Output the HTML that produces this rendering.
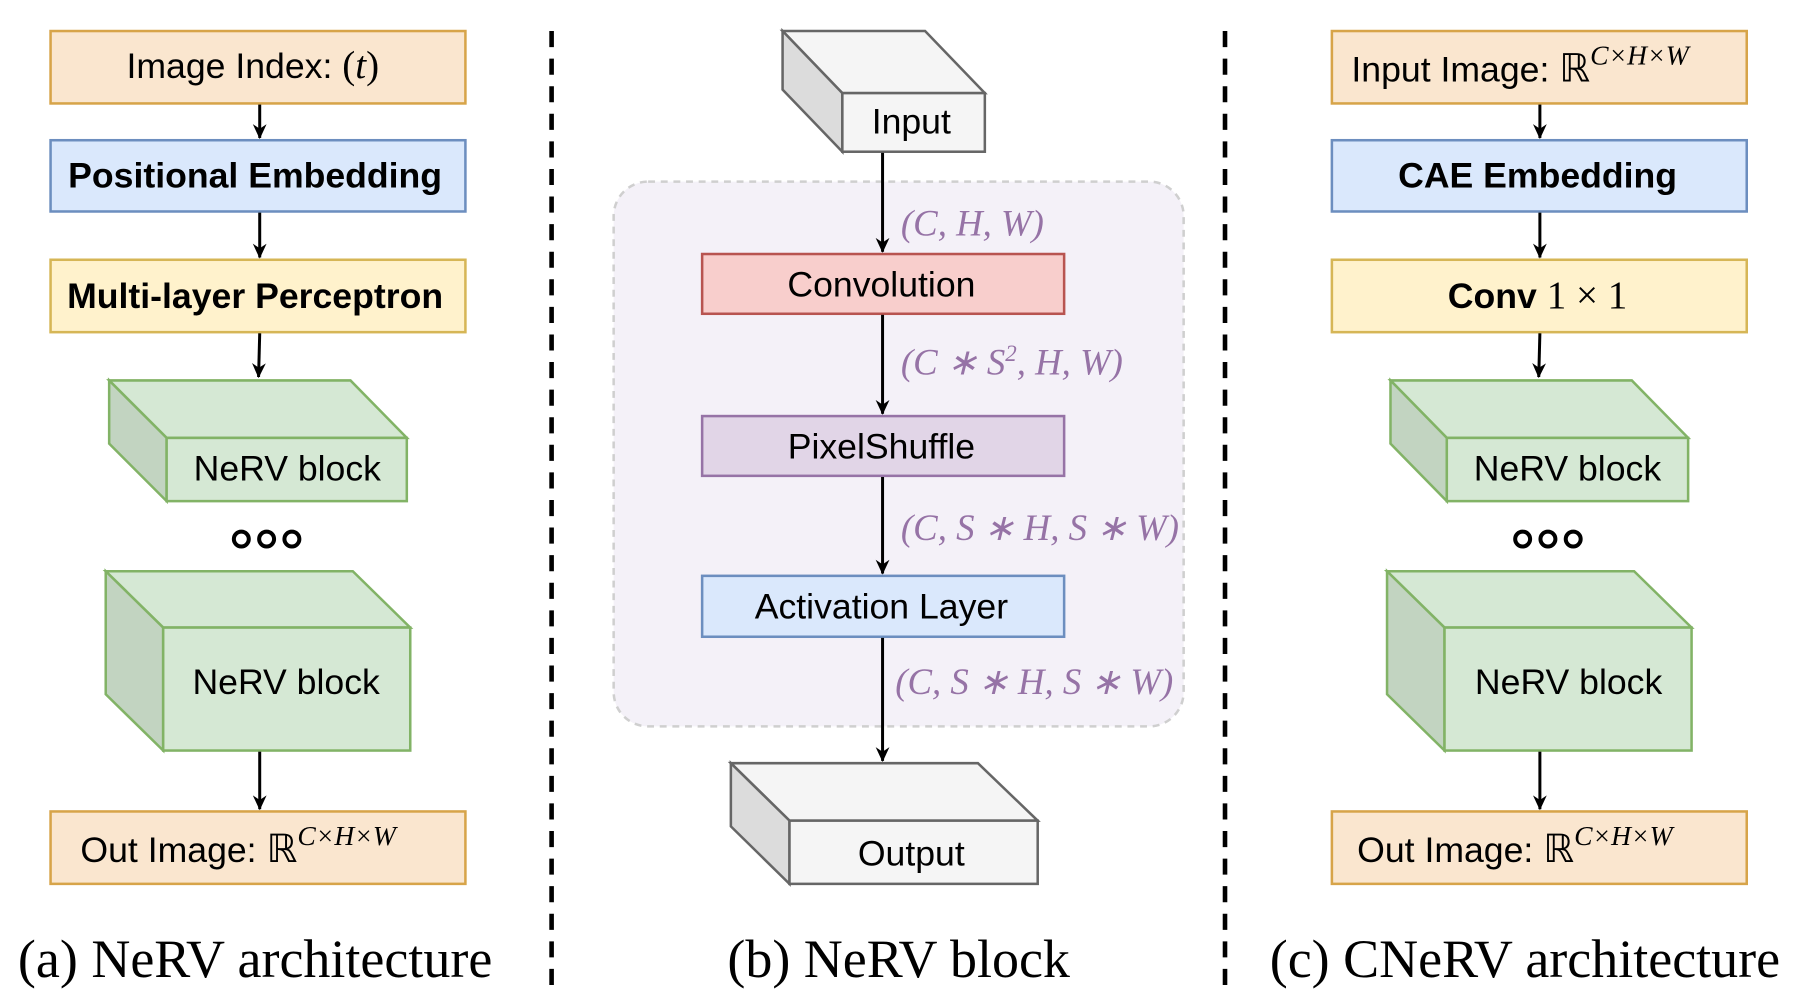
<!DOCTYPE html>
<html><head><meta charset="utf-8"><style>
html,body{margin:0;padding:0;background:#fff;}
svg{display:block;}
.t{font-family:"Liberation Sans",sans-serif;font-size:31px;fill:#000;}
.b{font-weight:bold;}
.m{font-family:"Liberation Serif",serif;font-style:italic;font-size:32px;fill:#9673a6;}
.cap{font-family:"Liberation Serif",serif;font-size:47px;fill:#000;}
</style></head><body>
<svg width="1795" height="1008" viewBox="0 0 1562 877" preserveAspectRatio="none" xmlns="http://www.w3.org/2000/svg">
<defs>
<marker id="ar" markerWidth="14" markerHeight="14" refX="12" refY="6" orient="auto" markerUnits="userSpaceOnUse">
<path d="M0,0 L13,6 L0,12 L4,6 z" fill="#000"/></marker>
</defs>
<g stroke-width="2.2">
<line x1="480" y1="27" x2="480" y2="860" stroke="#000" stroke-width="4" stroke-dasharray="14,10"/>
<line x1="1066" y1="27" x2="1066" y2="860" stroke="#000" stroke-width="4" stroke-dasharray="14,10"/>

<!-- LEFT -->
<rect x="44" y="27" width="361" height="63" fill="#fae6cf" stroke="#d7a449"/>
<rect x="44" y="122" width="361" height="62" fill="#dae8fc" stroke="#6c8ebf"/>
<rect x="44" y="226" width="361" height="63" fill="#fff2cc" stroke="#d6b656"/>
<path d="M95,331 L305,331 L354,381 L145,381 Z" fill="#d5e8d4" stroke="#82b366"/>
<path d="M95,331 L145,381 L145,436 L95,386 Z" fill="#c2d4c1" stroke="#82b366"/>
<rect x="145" y="381" width="209" height="55" fill="#d5e8d4" stroke="#82b366"/>
<path d="M92,497 L307,497 L357,546 L142,546 Z" fill="#d5e8d4" stroke="#82b366"/>
<path d="M92,497 L142,546 L142,653 L92,604 Z" fill="#c2d4c1" stroke="#82b366"/>
<rect x="142" y="546" width="215" height="107" fill="#d5e8d4" stroke="#82b366"/>
<rect x="44" y="706" width="361" height="63" fill="#fae6cf" stroke="#d7a449"/>
<g fill="none" stroke="#000" stroke-width="3.5"><circle cx="210" cy="469" r="6.5"/><circle cx="232" cy="469" r="6.5"/><circle cx="254" cy="469" r="6.5"/></g>
<g stroke="#000" stroke-width="2.6" marker-end="url(#ar)">
<line x1="226" y1="91" x2="226" y2="120"/><line x1="226" y1="185" x2="226" y2="224"/>
<line x1="226" y1="290" x2="225" y2="328"/><line x1="226" y1="654" x2="226" y2="704"/></g>

<!-- MIDDLE -->
<rect x="534" y="158" width="496" height="474" rx="30" fill="#f4f1f8" stroke="#cfcfcf" stroke-dasharray="6,5"/>
<path d="M681,27 L805,27 L857,81 L733,81 Z" fill="#f5f5f5" stroke="#666"/>
<path d="M681,27 L733,81 L733,132 L681,78 Z" fill="#dcdcdc" stroke="#666"/>
<rect x="733" y="81" width="124" height="51" fill="#f5f5f5" stroke="#666"/>
<rect x="611" y="221" width="315" height="52" fill="#f8cecc" stroke="#b85450"/>
<rect x="611" y="362" width="315" height="52" fill="#e1d5e7" stroke="#9673a6"/>
<rect x="611" y="501" width="315" height="53" fill="#dae8fc" stroke="#6c8ebf"/>
<path d="M636,664 L851,664 L903,714 L687,714 Z" fill="#f5f5f5" stroke="#666"/>
<path d="M636,664 L687,714 L687,769 L636,719 Z" fill="#dcdcdc" stroke="#666"/>
<rect x="687" y="714" width="216" height="55" fill="#f5f5f5" stroke="#666"/>
<g stroke="#000" stroke-width="2.6" marker-end="url(#ar)">
<line x1="768" y1="133" x2="768" y2="219"/><line x1="768" y1="274" x2="768" y2="360"/>
<line x1="768" y1="415" x2="768" y2="499"/><line x1="768" y1="555" x2="768" y2="662"/></g>

<!-- RIGHT -->
<rect x="1159" y="27" width="361" height="63" fill="#fae6cf" stroke="#d7a449"/>
<rect x="1159" y="122" width="361" height="62" fill="#dae8fc" stroke="#6c8ebf"/>
<rect x="1159" y="226" width="361" height="63" fill="#fff2cc" stroke="#d6b656"/>
<path d="M1210,331 L1420,331 L1469,381 L1259,381 Z" fill="#d5e8d4" stroke="#82b366"/>
<path d="M1210,331 L1259,381 L1259,436 L1210,386 Z" fill="#c2d4c1" stroke="#82b366"/>
<rect x="1259" y="381" width="210" height="55" fill="#d5e8d4" stroke="#82b366"/>
<path d="M1207,497 L1422,497 L1472,546 L1257,546 Z" fill="#d5e8d4" stroke="#82b366"/>
<path d="M1207,497 L1257,546 L1257,653 L1207,604 Z" fill="#c2d4c1" stroke="#82b366"/>
<rect x="1257" y="546" width="215" height="107" fill="#d5e8d4" stroke="#82b366"/>
<rect x="1159" y="706" width="361" height="63" fill="#fae6cf" stroke="#d7a449"/>
<g fill="none" stroke="#000" stroke-width="3.5"><circle cx="1325" cy="469" r="6.5"/><circle cx="1347" cy="469" r="6.5"/><circle cx="1369" cy="469" r="6.5"/></g>
<g stroke="#000" stroke-width="2.6" marker-end="url(#ar)">
<line x1="1340" y1="91" x2="1340" y2="120"/><line x1="1340" y1="185" x2="1340" y2="224"/>
<line x1="1340" y1="290" x2="1339" y2="328"/><line x1="1340" y1="654" x2="1340" y2="704"/></g>
</g>

<!-- TEXT -->
<text class="t" x="220" y="68" text-anchor="middle">Image Index: <tspan font-family="Liberation Serif" font-size="34">(</tspan><tspan font-family="Liberation Serif" font-style="italic" font-size="34">t</tspan><tspan font-family="Liberation Serif" font-size="34">)</tspan></text>
<text class="t b" x="222" y="163" text-anchor="middle">Positional Embedding</text>
<text class="t b" x="222" y="268" text-anchor="middle">Multi-layer Perceptron</text>
<text class="t" x="250" y="418" text-anchor="middle">NeRV block</text>
<text class="t" x="249" y="604" text-anchor="middle">NeRV block</text>
<text class="t" x="70" y="750">Out Image: <tspan font-family="Liberation Serif" font-size="34">ℝ</tspan><tspan font-family="Liberation Serif" font-style="italic" font-size="24" dy="-15">C×H×W</tspan></text>
<text class="cap" x="222" y="850" text-anchor="middle">(a) NeRV architecture</text>

<text class="t" x="793" y="116" text-anchor="middle">Input</text>
<text class="t" x="767" y="258" text-anchor="middle">Convolution</text>
<text class="t" x="767" y="399" text-anchor="middle">PixelShuffle</text>
<text class="t" x="767" y="538" text-anchor="middle">Activation Layer</text>
<text class="t" x="793" y="753" text-anchor="middle">Output</text>
<text class="m" x="784" y="205">(C, H, W)</text>
<text class="m" x="784" y="326">(C ∗ S<tspan font-size="20" dy="-12">2</tspan><tspan dy="12">, H, W)</tspan></text>
<text class="m" x="784" y="470">(C, S ∗ H, S ∗ W)</text>
<text class="m" x="779" y="604">(C, S ∗ H, S ∗ W)</text>
<text class="cap" x="782" y="850" text-anchor="middle">(b) NeRV block</text>

<text class="t" x="1176" y="71">Input Image: <tspan font-family="Liberation Serif" font-size="34">ℝ</tspan><tspan font-family="Liberation Serif" font-style="italic" font-size="24" dy="-15">C×H×W</tspan></text>
<text class="t b" x="1338" y="163" text-anchor="middle">CAE Embedding</text>
<text class="t" x="1338" y="268" text-anchor="middle"><tspan font-weight="bold">Conv </tspan><tspan font-family="Liberation Serif" font-size="34">1 × 1</tspan></text>
<text class="t" x="1364" y="418" text-anchor="middle">NeRV block</text>
<text class="t" x="1365" y="604" text-anchor="middle">NeRV block</text>
<text class="t" x="1181" y="750">Out  Image: <tspan font-family="Liberation Serif" font-size="34">ℝ</tspan><tspan font-family="Liberation Serif" font-style="italic" font-size="24" dy="-15">C×H×W</tspan></text>
<text class="cap" x="1327" y="850" text-anchor="middle">(c) CNeRV architecture</text>
</svg>
</body></html>
